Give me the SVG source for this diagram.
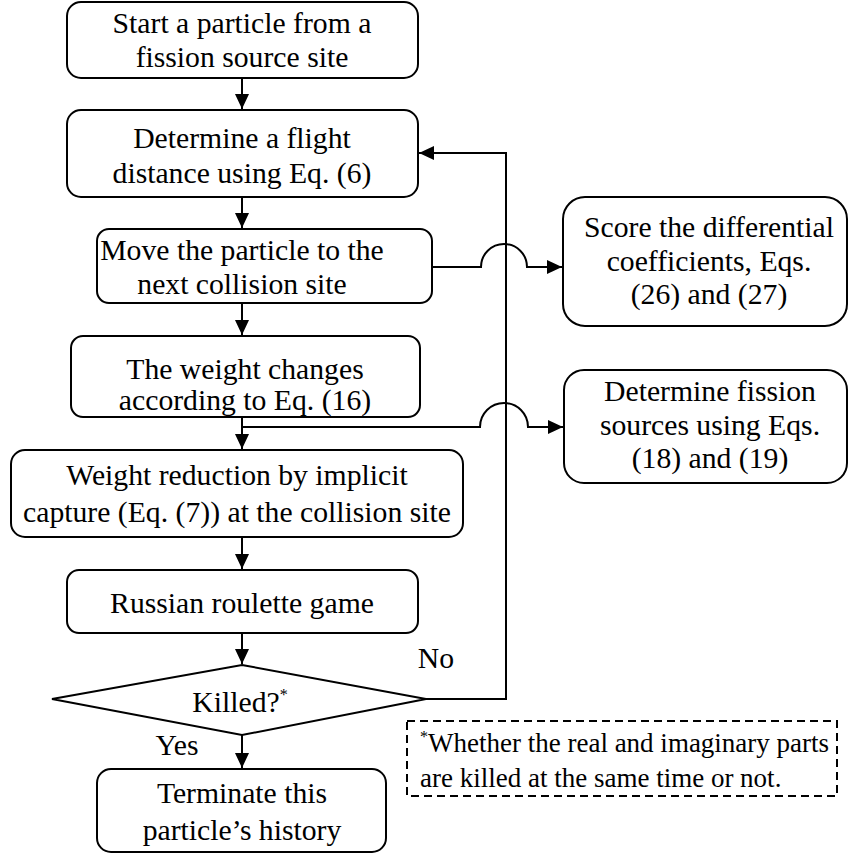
<svg xmlns="http://www.w3.org/2000/svg" width="849" height="854" viewBox="0 0 849 854">
<style>
.box{fill:#fff;stroke:#000;stroke-width:2}
.t{font-family:'Liberation Serif',serif;font-size:29.7px;fill:#000;text-anchor:middle}
.c{fill:none;stroke:#000;stroke-width:2}
.sup{font-size:16px}
</style>
<defs>
<marker id="ah" markerUnits="userSpaceOnUse" markerWidth="16" markerHeight="14" refX="15" refY="7" orient="auto">
<path d="M0,0 L15,7 L0,14 Z" fill="#000"/>
</marker>
</defs>
<rect width="849" height="854" fill="#fff"/>
<g id="connectors">
<path class="c" d="M242,78 V109" marker-end="url(#ah)"/>
<path class="c" d="M242,197 V228" marker-end="url(#ah)"/>
<path class="c" d="M242,303 V335" marker-end="url(#ah)"/>
<path class="c" d="M242,417 V449" marker-end="url(#ah)"/>
<path class="c" d="M242,537 V569" marker-end="url(#ah)"/>
<path class="c" d="M242,633 V664" marker-end="url(#ah)"/>
<path class="c" d="M242,735 V768" marker-end="url(#ah)"/>
<path class="c" d="M426,699 H506 V153 H419" marker-end="url(#ah)"/>
<path class="c" d="M432,267 H481 A23,23 0 0 1 527,267 H562" marker-end="url(#ah)"/>
<path class="c" d="M242,427 H480 A24,24 0 0 1 528,427 H563" marker-end="url(#ah)"/>
</g>
<g font-family="'Liberation Serif', serif">
<g id="start">
<rect class="box" x="67" y="2" width="351" height="76" rx="14"/>
<text class="t" x="242" y="33">Start a particle from a</text>
<text class="t" x="242" y="67">fission source site</text>
</g>
<g id="flight">
<rect class="box" x="67" y="110" width="351" height="87" rx="14"/>
<text class="t" x="242" y="148">Determine a flight</text>
<text class="t" x="242" y="183">distance using Eq. (6)</text>
</g>
<g id="move">
<rect class="box" x="97" y="229" width="335" height="74" rx="12"/>
<text class="t" x="242" y="260">Move the particle to the</text>
<text class="t" x="242" y="294">next collision site</text>
</g>
<g id="weight">
<rect class="box" x="71" y="336" width="349" height="81" rx="12"/>
<text class="t" x="245" y="379">The weight changes</text>
<text class="t" x="245" y="410">according to Eq. (16)</text>
</g>
<g id="reduction">
<rect class="box" x="11" y="450" width="452" height="87" rx="14"/>
<text class="t" x="237" y="485">Weight reduction by implicit</text>
<text class="t" x="237" y="522">capture (Eq. (7)) at the collision site</text>
</g>
<g id="roulette">
<rect class="box" x="67" y="570" width="351" height="63" rx="12"/>
<text class="t" x="242" y="613">Russian roulette game</text>
</g>
<g id="killed">
<polygon class="box" points="242,665 426,699 242,735 52,699"/>
<text class="t" x="240" y="712">Killed?<tspan class="sup" dy="-12">*</tspan></text>
</g>
<g id="terminate">
<rect class="box" x="97" y="769" width="289" height="83" rx="14"/>
<text class="t" x="242" y="803">Terminate this</text>
<text class="t" x="242" y="840">particle’s history</text>
</g>
<g id="score">
<rect class="box" x="563" y="197" width="284" height="129" rx="22"/>
<text class="t" x="709" y="237">Score the differential</text>
<text class="t" x="709" y="271">coefficients, Eqs.</text>
<text class="t" x="709" y="304">(26) and (27)</text>
</g>
<g id="fission">
<rect class="box" x="564" y="370" width="283" height="113" rx="20"/>
<text class="t" x="710" y="401">Determine fission</text>
<text class="t" x="710" y="435">sources using Eqs.</text>
<text class="t" x="710" y="468">(18) and (19)</text>
</g>
<g id="labels">
<text class="t" x="436" y="668">No</text>
<text class="t" x="177" y="755">Yes</text>
</g>
<g id="footnote">
<rect x="407" y="721" width="430" height="75" fill="none" stroke="#000" stroke-width="2" stroke-dasharray="8,5"/>
<text class="t" x="420" y="752" style="text-anchor:start;font-size:27px"><tspan class="sup" dy="-10">*</tspan><tspan dy="10">Whether the real and imaginary parts</tspan></text>
<text class="t" x="420" y="787" style="text-anchor:start;font-size:27px">are killed at the same time or not.</text>
</g>
</g>
</svg>
